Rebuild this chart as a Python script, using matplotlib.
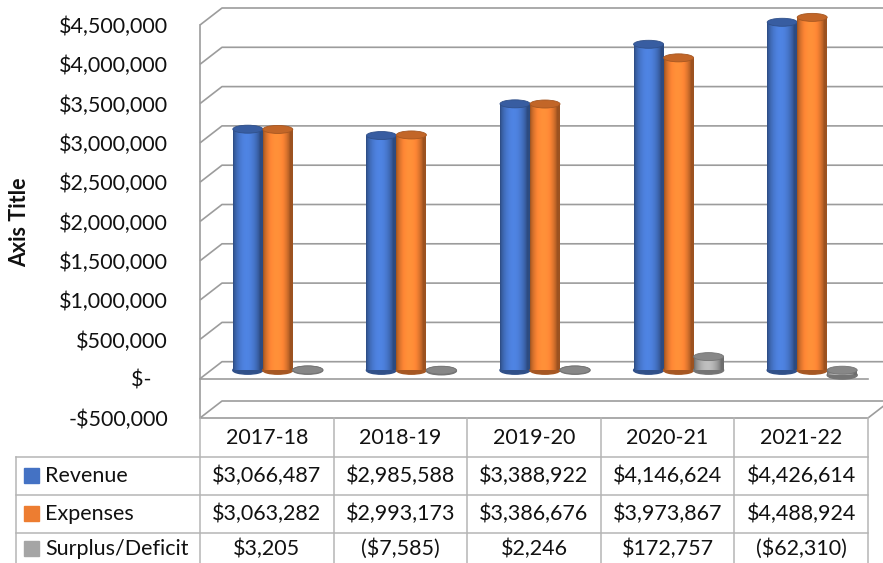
import matplotlib
matplotlib.use("Agg")
import matplotlib.pyplot as plt
import numpy as np
from matplotlib.patches import Ellipse, Rectangle
from matplotlib.lines import Line2D
from matplotlib.colors import to_rgb

plt.rcParams["font.family"] = ["Lato", "DejaVu Sans"]

# data
years = ["2017-18", "2018-19", "2019-20", "2020-21", "2021-22"]
revenue = [3066487, 2985588, 3388922, 4146624, 4426614]
expenses = [3063282, 2993173, 3386676, 3973867, 4488924]
surplus = [3205, -7585, 2246, 172757, -62310]
series_names = ["Revenue", "Expenses", "Surplus/Deficit"]
series_colors = ["#4472C4", "#ED7D31", "#A5A5A5"]
yticks = list(range(-500000, 4500001, 500000))

W, H = 883, 563
FS = 15.5
TXT = "#111111"
GRID = "#9c9c9c"

fig = plt.figure(figsize=(W / 100, H / 100), dpi=100)
# front plane of the 3d box, in pixels
left_px, right_px, top_px, bot_px = 200, 868, 25, 418
ax = fig.add_axes([left_px / W, 1 - bot_px / H, (right_px - left_px) / W, (bot_px - top_px) / H])
ax.set_xlim(-0.5, 4.5)
ax.set_ylim(-500000, 4500000)
for s in ax.spines.values():
    s.set_visible(False)
ax.set_xticks([])

# depth of the box in data units (22px right, 17px up)
DX = 22 / (right_px - left_px) * 5
DY = 17 / (bot_px - top_px) * 5e6
BW = 30 / (right_px - left_px) * 5
EH = 8 / (bot_px - top_px) * 5e6


def axis_money(v):
    if v == 0:
        return "$-   "
    if v < 0:
        return f"-${-v:,.0f}"
    return f"${v:,.0f}"


def money(v):
    return f"${v:,.0f}" if v >= 0 else f"(${-v:,.0f})"


ax.set_yticks(yticks)
ax.set_yticklabels([axis_money(v) for v in yticks], fontsize=FS, color=TXT)
ax.tick_params(axis="y", length=0, pad=23)

# walls and gridlines
x0, x1 = -0.5, 4.5
for v in yticks:
    ax.plot([x0, x0 + DX, x1 + DX + 0.2], [v, v + DY, v + DY], color=GRID, lw=1.2,
            clip_on=False, zorder=0, solid_capstyle="butt")
ax.plot([x0, x0], [yticks[0], yticks[-1]], color=GRID, lw=1.2, clip_on=False, zorder=0)
ax.plot([x0, x1], [0, 0], color=GRID, lw=1.2, clip_on=False, zorder=1)
ax.plot([x0, x1, x1 + DX], [yticks[0], yticks[0], yticks[0] + DY], color=GRID, lw=1.2,
        clip_on=False, zorder=1)

# cylinders
t = np.linspace(0, 1, 48)
shade = 0.66 + 0.5 * np.sin(np.pi * np.clip(t * 1.1, 0, 1)) ** 0.7
for k, (vals, col) in enumerate(zip([revenue, expenses, surplus], series_colors)):
    rgb = np.array(to_rgb(col))
    xs = np.arange(len(years)) + DX / 2 + (k - 1) * BW
    base = DY / 2
    bars = ax.bar(xs, vals, width=BW, bottom=base, color=col, linewidth=0,
                  zorder=3 + k, clip_on=False)
    grad = np.clip(rgb[None, None, :] * shade[None, :, None], 0, 1)
    for xc, v, p in zip(xs, vals, bars.patches):
        lo, hi = min(base, base + v), max(base, base + v)
        ax.add_patch(Ellipse((xc, lo), BW, EH, color=np.clip(rgb * 0.7, 0, 1),
                             zorder=2.9 + k, clip_on=False))
        im = ax.imshow(grad, extent=[xc - BW / 2, xc + BW / 2, lo, hi], aspect="auto",
                       interpolation="bilinear", zorder=3.05 + k)
        im.set_clip_path(p)
        ax.add_patch(Ellipse((xc, hi), BW, EH, facecolor=np.clip(rgb * 0.82, 0, 1),
                             edgecolor=np.clip(rgb * 0.7, 0, 1), lw=0.6,
                             zorder=3.1 + k, clip_on=False))
ax.set_xlim(-0.5, 4.5)
ax.set_ylim(-500000, 4500000)

# y axis title
fig.text(20 / W, 1 - 222 / H, "Axis Title", rotation=90, fontsize=FS, weight="bold",
         color=TXT, ha="center", va="center")


# data table
def fy(px):
    return 1 - px / H


def fx_data(x):
    return (left_px + (x + 0.5) / 5 * (right_px - left_px)) / W


rows_px = [418, 457, 495, 533, 571]
TBL = "#b5b5b5"
tab_left = 16 / W
for r in rows_px[1:-1]:
    fig.add_artist(Line2D([tab_left, fx_data(x1)], [fy(r), fy(r)], color=TBL, lw=1.1))
fig.add_artist(Line2D([tab_left, tab_left], [fy(457), fy(571)], color=TBL, lw=1.1))
for i in range(len(years) + 1):
    xb = fx_data(i - 0.5)
    fig.add_artist(Line2D([xb, xb], [fy(418), fy(571)], color=TBL, lw=1.1))

for i, yr in enumerate(years):
    fig.text(fx_data(i), fy((rows_px[0] + rows_px[1]) / 2 + 1), yr, fontsize=FS, color=TXT,
             ha="center", va="center")
    for k, vals in enumerate([revenue, expenses, surplus]):
        yc = (rows_px[k + 1] + rows_px[k + 2]) / 2
        if k == 2:
            yc = 549
        fig.text(fx_data(i), fy(yc), money(vals[i]), fontsize=FS, color=TXT,
                 ha="center", va="center")

for k, (name, col) in enumerate(zip(series_names, series_colors)):
    yc = (rows_px[k + 1] + rows_px[k + 2]) / 2
    if k == 2:
        yc = 549
    fig.add_artist(Rectangle((24 / W, fy(yc + 7)), 15 / W, 15 / H, color=col,
                             transform=fig.transFigure))
    fig.text(45 / W, fy(yc), name, fontsize=FS, color=TXT, ha="left", va="center")

fig.savefig("out.png", dpi=100)
